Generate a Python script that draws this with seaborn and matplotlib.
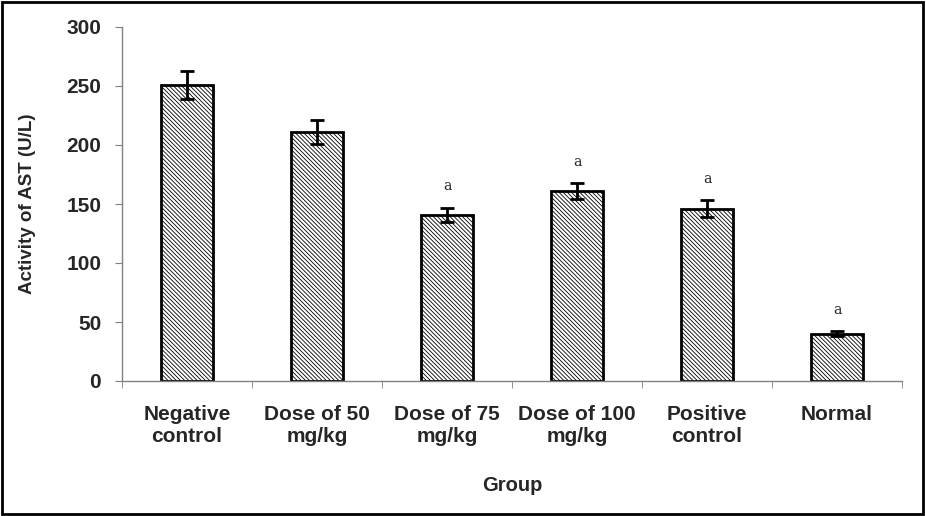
import numpy as np
import pandas as pd
import matplotlib
matplotlib.use("Agg")
import matplotlib.pyplot as plt
import seaborn as sns

# Veri
groups = ["Negative\ncontrol", "Dose of 50\nmg/kg", "Dose of 75\nmg/kg",
          "Dose of 100\nmg/kg", "Positive\ncontrol", "Normal"]
ast_mean = [251, 211, 141, 161, 146, 40]
ast_err = [12, 10, 6, 7, 7, 2]
sig_marks = ["", "", "a", "a", "a", "a"]

df = pd.DataFrame({"group": groups, "ast": ast_mean, "err": ast_err})

sns.set_style("white")
plt.rcParams["font.family"] = ["Liberation Sans", "DejaVu Sans"]
plt.rcParams["hatch.linewidth"] = 0.6

fig = plt.figure(figsize=(9.26, 5.16), dpi=100)
ax = fig.add_axes([122 / 926, 1 - 381 / 516, 780 / 926, 354 / 516])

sns.barplot(data=df, x="group", y="ast", color="white", width=0.4,
            edgecolor="black", linewidth=2, errorbar=None, ax=ax)
for p in ax.patches:
    p.set_hatch("\\" * 8)

ax.errorbar(np.arange(len(groups)), df["ast"], yerr=df["err"], fmt="none",
            ecolor="black", elinewidth=2, capsize=5, capthick=2)

for i, m in enumerate(sig_marks):
    if m:
        ax.text(i, ast_mean[i] + ast_err[i] + 12, m, ha="center", va="bottom",
                fontsize=10, family="DejaVu Serif")

ax.set_ylim(0, 300)
ax.set_yticks(range(0, 301, 50))
ax.set_xlim(-0.5, len(groups) - 0.5)
ax.set_xticks(np.arange(-0.5, len(groups), 1), minor=True)

for s in ["top", "right"]:
    ax.spines[s].set_visible(False)
for s in ["left", "bottom"]:
    ax.spines[s].set_color("#808080")
    ax.spines[s].set_linewidth(1)

ax.tick_params(axis="y", which="major", direction="out", length=5, color="#808080",
               labelsize=15, left=True, pad=10)
ax.tick_params(axis="x", which="major", length=0, labelsize=15, pad=17)
ax.tick_params(axis="x", which="minor", direction="out", length=5, color="#808080", bottom=True)
for lab in ax.get_xticklabels() + ax.get_yticklabels():
    lab.set_fontweight("bold")

ax.set_xlabel("Group", fontsize=14.5, fontweight="bold", labelpad=22)
ax.set_ylabel("Activity of AST (U/L)", fontsize=13.5, fontweight="bold", labelpad=22)

# Dış çerçeve
fig.patches.append(plt.Rectangle((0.002, 0.003), 0.995, 0.993, transform=fig.transFigure,
                                 fill=False, edgecolor="black", linewidth=2))

fig.savefig("out.png", dpi=100)
